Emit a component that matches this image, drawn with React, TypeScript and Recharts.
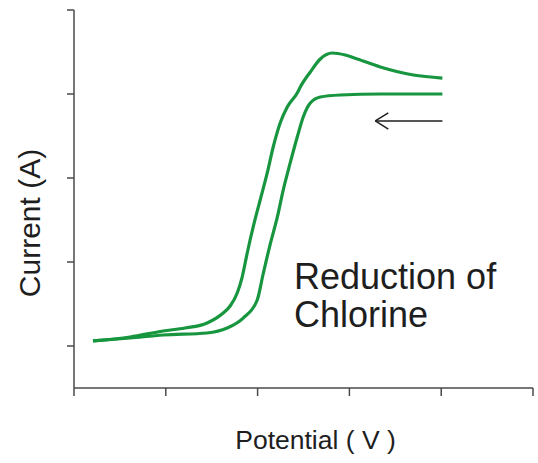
import React from 'react';
import { LineChart, Line, XAxis, YAxis, ReferenceLine, Customized } from 'recharts';

const xTicks = [0, 1, 2, 3, 4, 5];
const yTicks = [0.5, 1.5, 2.5, 3.5, 4.5];

// forward (lower) sweep: potential, current
const forwardX = [0.207, 0.611, 0.971, 1.45, 1.668, 1.843, 1.996, 2.061, 2.137, 2.214, 2.279, 2.355, 2.432, 2.497, 2.574, 2.683, 2.901, 3.337, 4.013];
const forwardY = [0.56, 0.595, 0.631, 0.655, 0.714, 0.833, 1.048, 1.36, 1.71, 2.03, 2.357, 2.679, 2.988, 3.226, 3.393, 3.464, 3.488, 3.5, 3.5];

// reverse (upper) sweep
const reverseX = [0.207, 0.611, 0.971, 1.21, 1.45, 1.625, 1.701, 1.778, 1.832, 1.887, 1.952, 2.028, 2.105, 2.17, 2.246, 2.323, 2.432, 2.465, 2.574, 2.683, 2.814, 2.955, 3.086, 3.337, 3.697, 4.013];
const reverseY = [0.56, 0.607, 0.679, 0.714, 0.774, 0.893, 0.976, 1.131, 1.321, 1.607, 1.917, 2.238, 2.56, 2.869, 3.155, 3.345, 3.512, 3.583, 3.762, 3.917, 3.988, 3.964, 3.917, 3.821, 3.726, 3.69];

const arrowTip = { x: 3.282, y: 3.179 };
const arrowTail = { x: 4.013, y: 3.179 };
const arrowHeadUp = { x: 3.424, y: 3.274 };
const arrowHeadDown = { x: 3.424, y: 3.083 };

const xLabel = 'Potential ( V )';
const yLabel = 'Current (A)';
const noteLines = ['Reduction of', 'Chlorine'];

const forwardData = forwardX.map((x, i) => ({ x, y: forwardY[i] }));
const reverseData = reverseX.map((x, i) => ({ x, y: reverseY[i] }));

const GREEN = '#17963f';
const AXIS = '#4a4a4a';
const TEXT = '#1e1e1e';
const FONT = '"Liberation Sans", Arial, sans-serif';

const Texts = () => (
  <g fontFamily={FONT} fill={TEXT}>
    <text x={315.5} y={449} fontSize={26.5} textAnchor="middle">{xLabel}</text>
    <text x={40} y={223} fontSize={30} textAnchor="middle" transform="rotate(-90 40 223)">{yLabel}</text>
    <text x={294} y={289} fontSize={36}>{noteLines[0]}</text>
    <text x={294} y={327} fontSize={36}>{noteLines[1]}</text>
  </g>
);

export default function App() {
  return (
    <div style={{ position: 'absolute', left: 0, top: 0, width: 538, height: 463, background: '#fff' }}>
      <LineChart width={538} height={463} margin={{ top: 10, right: 5, bottom: 65, left: 64 }}>
        <XAxis
          type="number"
          dataKey="x"
          domain={[0, 5]}
          ticks={xTicks}
          height={10}
          tickSize={8}
          tickFormatter={() => ''}
          stroke={AXIS}
          strokeWidth={1.5}
          allowDataOverflow
        />
        <YAxis
          type="number"
          dataKey="y"
          domain={[0, 4.5]}
          ticks={yTicks}
          width={10}
          tickSize={7}
          tickFormatter={() => ''}
          stroke={AXIS}
          strokeWidth={1.5}
          allowDataOverflow
        />
        <Line data={forwardData} dataKey="y" type="monotone" stroke={GREEN} strokeWidth={3.2} dot={false} isAnimationActive={false} />
        <Line data={reverseData} dataKey="y" type="monotone" stroke={GREEN} strokeWidth={3.2} dot={false} isAnimationActive={false} />
        <ReferenceLine segment={[arrowTip, arrowTail]} stroke={TEXT} strokeWidth={1.5} ifOverflow="visible" />
        <ReferenceLine segment={[arrowTip, arrowHeadUp]} stroke={TEXT} strokeWidth={1.5} ifOverflow="visible" />
        <ReferenceLine segment={[arrowTip, arrowHeadDown]} stroke={TEXT} strokeWidth={1.5} ifOverflow="visible" />
        <Customized component={Texts} />
      </LineChart>
    </div>
  );
}
